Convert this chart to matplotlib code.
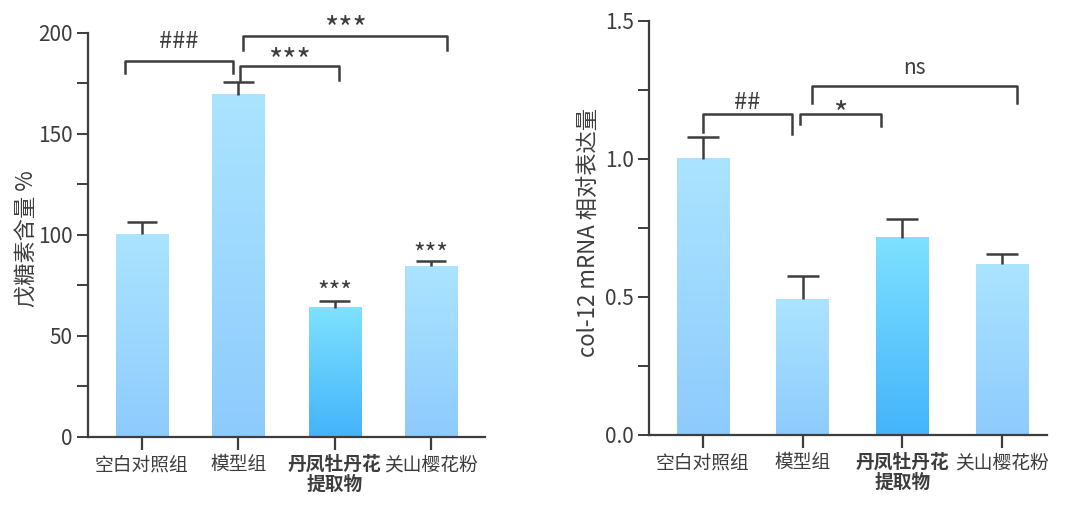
import numpy as np
import matplotlib
matplotlib.use("Agg")
import matplotlib.pyplot as plt
from matplotlib.colors import LinearSegmentedColormap

plt.rcParams['font.family'] = ['Noto Sans CJK SC', 'DejaVu Sans']

# data
groups = ["空白对照组", "模型组", "丹凤牡丹花\n提取物", "关山樱花粉"]
melanin = [100.3, 169.5, 63.9, 84.6]
melanin_err = [6.0, 6.0, 3.6, 2.3]
col12 = [1.0, 0.492, 0.714, 0.619]
col12_err = [0.078, 0.084, 0.067, 0.036]

DARK = "#3d3d3d"
normal_cmap = LinearSegmentedColormap.from_list("n", ["#8ecbfd", "#abe4ff"])
hi_cmap = LinearSegmentedColormap.from_list("h", ["#44b4fb", "#7ee1ff"])
grad = np.linspace(0, 1, 256).reshape(-1, 1)


def draw_bars(ax, values, errs, width, xlim, ylim):
    for i, (v, e) in enumerate(zip(values, errs)):
        cmap = hi_cmap if i == 2 else normal_cmap
        ax.imshow(grad, cmap=cmap, origin="lower", aspect="auto",
                  extent=[i - width / 2, i + width / 2, 0, v], zorder=2)
        # upper error bar only
        ax.vlines(i, v, v + e, color=DARK, lw=1.8, zorder=3)
        ax.hlines(v + e, i - 0.16, i + 0.16, color=DARK, lw=1.8, zorder=3)
    ax.set_xlim(*xlim)
    ax.set_ylim(*ylim)


def bracket(ax, x1, x2, top, l1, l2, text, ty, fs=16):
    ax.plot([x1, x1, x2, x2], [l1, top, top, l2], color=DARK, lw=1.8,
            clip_on=False, zorder=4)
    ax.text((x1 + x2) / 2, ty, text, ha="center", va="center", fontsize=fs,
            color=DARK, clip_on=False)


def style(ax, major, minor):
    for s in ["top", "right"]:
        ax.spines[s].set_visible(False)
    for s in ["left", "bottom"]:
        ax.spines[s].set_color(DARK)
        ax.spines[s].set_linewidth(1.6)
    ax.set_yticks(major)
    ax.set_yticks(minor, minor=True)
    ax.tick_params(axis="y", which="both", length=8, width=1.4, color=DARK,
                   labelsize=15, labelcolor=DARK, pad=3)
    ax.set_xticks(range(len(groups)))
    ax.set_xticklabels(groups)
    ax.tick_params(axis="x", length=9, width=1.6, color=DARK, labelsize=13.5,
                   labelcolor=DARK)
    for i, lab in enumerate(ax.get_xticklabels()):
        lab.set_linespacing(1.1)
        lab.set_verticalalignment("top")
        if i == 2:
            lab.set_fontweight("bold")


fig = plt.figure(figsize=(10.8, 5.27), dpi=100)

# left panel
ax1 = fig.add_axes([0.0815, 0.1708, 0.3676, 0.7666])
draw_bars(ax1, melanin, melanin_err, 0.54, (-0.56, 3.56), (0, 200))
style(ax1, [0, 50, 100, 150, 200], [25, 75, 125, 175])
ax1.set_ylabel("戊糖素含量 %", fontsize=16, color=DARK, va="center")
ax1.yaxis.set_label_coords(-0.153, 0.49)
bracket(ax1, -0.18, 0.94, 186.3, 180.0, 180.0, "###", 196, fs=17)
bracket(ax1, 1.02, 2.04, 183.8, 176.5, 176.5, "***", 186, fs=22)
bracket(ax1, 1.05, 3.17, 198.7, 191.5, 191.5, "***", 201.5, fs=22)
ax1.text(2, 71.5, "***", ha="center", va="center", fontsize=18, color=DARK)
ax1.text(3, 90, "***", ha="center", va="center", fontsize=18, color=DARK)

# right panel
ax2 = fig.add_axes([0.601, 0.1746, 0.3685, 0.786])
draw_bars(ax2, col12, col12_err, 0.53, (-0.54, 3.45), (0, 1.5))
style(ax2, [0, 0.5, 1.0, 1.5], [0.25, 0.75, 1.25])
ax2.set_yticklabels(["0.0", "0.5", "1.0", "1.5"])
ax2.set_ylabel("col-12 mRNA 相对表达量", fontsize=16, color=DARK, va="center")
ax2.yaxis.set_label_coords(-0.151, 0.49)
bracket(ax2, 0.0, 0.89, 1.161, 1.098, 1.09, "##", 1.205, fs=17)
bracket(ax2, 0.97, 1.79, 1.161, 1.125, 1.12, "*", 1.16, fs=22)
bracket(ax2, 1.09, 3.15, 1.264, 1.203, 1.203, "ns", 1.33, fs=15)

fig.savefig("out.png", dpi=100)
